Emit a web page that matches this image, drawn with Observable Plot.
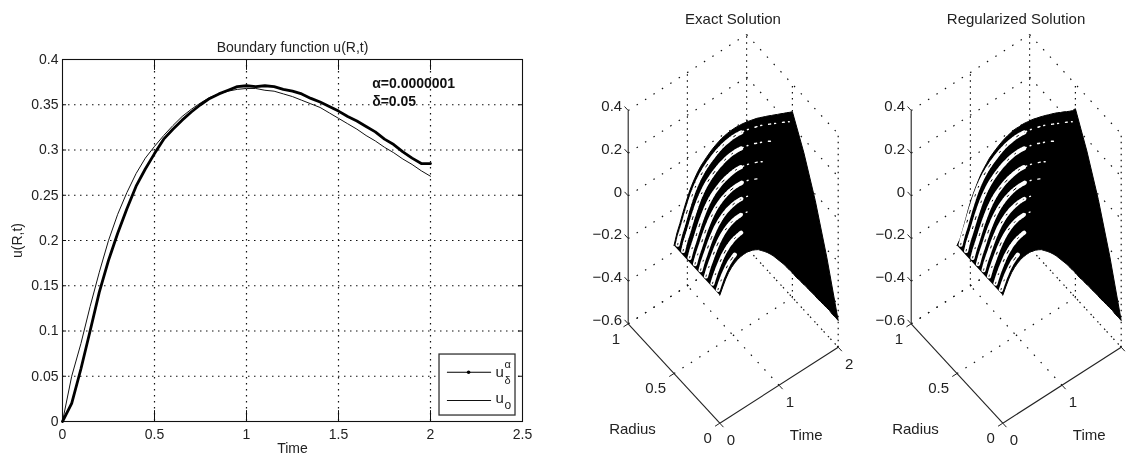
<!DOCTYPE html>
<html><head><meta charset="utf-8">
<script src="https://cdn.jsdelivr.net/npm/d3@7"></script>
<script src="https://cdn.jsdelivr.net/npm/@observablehq/plot@0.6"></script>
<style>
html,body{margin:0;padding:0;background:#fff;overflow:hidden;width:1127px;height:456px}
#page{position:relative;width:1127px;height:456px;overflow:hidden;filter:blur(.35px)}
#page>div{position:absolute;top:0;width:300px}
#page>#a{width:560px}
#page>#c{width:284px}
svg{display:block;max-width:none !important}
</style></head><body><div id="page"><div id="a" style="left:0"></div><div id="b" style="left:560px"></div><div id="c" style="left:843px"></div></div>
<script>
// Time grid shared by the boundary curves
const time = [0,.05,.1,.15,.2,.25,.3,.35,.4,.45,.5,.55,.6,.65,.7,.75,.8,.85,.9,.95,1,1.05,1.1,1.15,1.2,1.25,1.3,1.35,1.4,1.45,1.5,1.55,1.6,1.65,1.7,1.75,1.8,1.85,1.9,1.95,2];
// u_0 : thin curve, exact boundary function
const uExact = [0,.05,.086,.127,.165,.2,.229,.253,.274,.291,.304,.316,.327,.337,.345,.352,.358,.362,.365,.367,.368,.368,.366,.365,.362,.359,.355,.351,.347,.341,.335,.329,.323,.316,.31,.303,.297,.29,.284,.277,.271];
// u_delta^alpha : thick curve, regularized boundary function
const uReg = [0,.02,.058,.1,.143,.178,.208,.235,.26,.279,.296,.312,.323,.333,.342,.35,.357,.362,.366,.37,.371,.37,.371,.37,.367,.365,.362,.357,.353,.348,.343,.337,.332,.326,.32,.312,.306,.298,.291,.285,.285];
// Surface edge at r = 0
const uCentre = [0,.03,.058,.08,.095,.106,.114,.118,.12,.12,.118,.113,.106,.098,.085,.072,.058,.042,.025,.005,-.015,-.035,-.055,-.08,-.1,-.125,-.15,-.17,-.195,-.215,-.24,-.262,-.285,-.31,-.332,-.355,-.378,-.4,-.428,-.45,-.475];
// Surface edge at t = 2
const endRadius = [0,.125,.25,.375,.5];
const endExact = [-.475,-.236,-.03,.137,.271];
const endReg = [-.475,-.232,-.024,.145,.285];
// Surface rows between the mesh arcs
const rowTime = [.015,.05,.1,.2,.3,.4,.5,.6,.7,.8,.9,1,1.1,1.2,1.3,1.4,1.5,1.6,1.7,1.8,1.9];
const row03 = [.009,.032,.06,.101,.123];
const row09 = [.01,.035,.065,.112,.141,.156,.162];
const row16 = [.011,.038,.069,.123,.16,.182,.193,.195,.19,.179];
const row22 = [.012,.041,.073,.132,.175,.202,.217,.224,.224,.218,.207];
const row28 = [.013,.043,.076,.141,.189,.221,.24,.251,.255,.254,.247,.235,.22];
const row34 = [.014,.045,.079,.148,.202,.238,.26,.275,.283,.287,.284,.277,.266,.253,.235];
const row41 = [.014,.048,.083,.156,.215,.255,.281,.3,.313,.321,.323,.32,.314,.305,.292,.28,.264];
const row47 = [.015,.049,.085,.162,.225,.268,.297,.318,.335,.346,.352,.353,.35,.344,.335,.326,.313,.299,.285,.271,.256];
const rows = [[.03,row03,.3],[.09,row09,.5],[.16,row16,.6],[.22,row22,.7],[.28,row28,.8],[.34,row34,.9],[.41,row41,1],[.47,row47,1.1]];
// Axis ticks
const xTicks2d = [0,.5,1,1.5,2,2.5];
const yTicks2d = [0,.05,.1,.15,.2,.25,.3,.35,.4];
const tTicks = [0,1,2];
const rTicks = [0,.5,1];
const zTicks = [-.6,-.4,-.2,0,.2,.4];

const font = "'Liberation Sans', Arial, sans-serif";
const ink = "#222";
const fmt = v => String(v).replace("-", "\u2212");

// ---------- Left panel ----------
const thin = time.map((t,i)=>({t,u:uExact[i]}));
const thick = time.map((t,i)=>({t,u:uReg[i]}));
document.getElementById("a").append(Plot.plot({
  width:540,height:456,marginLeft:62,marginRight:18,marginTop:59,marginBottom:35,
  style:{background:"transparent",fontFamily:font,color:ink,fontSize:"14px"},
  x:{type:"linear",domain:[0,2.5]},y:{type:"linear",domain:[0,.4]},
  marks:[
    Plot.ruleX(xTicks2d.slice(1,-1),{stroke:"#111",strokeWidth:1.2,strokeDasharray:"1.5 4.5",strokeOpacity:1}),
    Plot.ruleY(yTicks2d.slice(1,-1),{stroke:"#111",strokeWidth:1.2,strokeDasharray:"1.5 4.5",strokeOpacity:1}),
    Plot.ruleX(xTicks2d,{y1:0,y2:.012,stroke:"#111"}),
    Plot.ruleX(xTicks2d,{y1:.388,y2:.4,stroke:"#111"}),
    Plot.ruleY(yTicks2d,{x1:0,x2:.022,stroke:"#111"}),
    Plot.ruleY(yTicks2d,{x1:2.478,x2:2.5,stroke:"#111"}),
    Plot.frame({stroke:"#111",strokeWidth:1.1}),
    Plot.axisX({ticks:xTicks2d,tickFormat:String,tickSize:0,tickPadding:8,fontSize:14,label:"Time",labelAnchor:"center",labelArrow:"none",labelOffset:31}),
    Plot.axisY({ticks:yTicks2d,tickFormat:String,tickSize:0,tickPadding:4,fontSize:14,label:"u(R,t)",labelAnchor:"center",labelArrow:"none",labelOffset:50}),
    Plot.line(thin,{x:"t",y:"u",stroke:"#111",strokeWidth:1}),
    Plot.line(thick,{x:"t",y:"u",stroke:"#000",strokeWidth:2.8}),
    Plot.text(["Boundary function u(R,t)"],{frameAnchor:"top",dy:-17,fontSize:14,fill:ink}),
    Plot.text(["\u03b1=0.0000001"],{x:1.683,y:.3738,textAnchor:"start",fontSize:14,fontWeight:"bold",fill:"#111"}),
    Plot.text(["\u03b4=0.05"],{x:1.683,y:.3536,textAnchor:"start",fontSize:14,fontWeight:"bold",fill:"#111"}),
    // legend
    Plot.rect([0],{x1:2.049,x2:2.462,y1:.0066,y2:.074,fill:"white",stroke:"#333",strokeWidth:1.3}),
    Plot.ruleY([.0545],{x1:2.092,x2:2.332,stroke:"#000",strokeWidth:1.1}),
    Plot.dot([0],{x:2.207,y:.0545,r:1.8,fill:"#000"}),
    Plot.ruleY([.0232],{x1:2.092,x2:2.332,stroke:"#111",strokeWidth:1}),
    Plot.text(["u"],{x:2.353,y:.0541,textAnchor:"start",fontSize:15,fill:ink}),
    Plot.text(["\u03b1"],{x:2.402,y:.0625,textAnchor:"start",fontSize:11,fill:ink}),
    Plot.text(["\u03b4"],{x:2.402,y:.0455,textAnchor:"start",fontSize:11,fill:ink}),
    Plot.text(["u"],{x:2.353,y:.0254,textAnchor:"start",fontSize:15,fill:ink}),
    Plot.text(["o"],{x:2.402,y:.0177,textAnchor:"start",fontSize:12,fill:ink})
  ]
}));

// ---------- 3-D panels ----------
// Oblique projection: (time, radius, height) to the panel's x and y
const P = {x0:159.3,y0:422.7,tx:59.2,ty:-38,rx:-91.6,ry:-99.4,zy:-213.3};
const px = (t,r) => P.x0 + P.tx*t + P.rx*r;
const py = (t,r,z) => P.y0 + P.ty*t + P.ry*r + P.zy*(z+.6);
const pt = (t,r,z) => ({x:px(t,r),y:py(t,r,z)});
const seg = (a,b) => ({x1:px(a[0],a[1]),y1:py(a[0],a[1],a[2]),x2:px(b[0],b[1]),y2:py(b[0],b[1],b[2])});

function panel(id,title,uTop,endCol,timeLabels,W){
  const H=456;
  const zLo=-.6,zHi=.4;
  const diag=[], vert=[];
  for(const t of tTicks){ if(t>0) diag.push(seg([t,0,zLo],[t,1,zLo])); if(t>0) vert.push(seg([t,1,zLo],[t,1,zHi])); }
  for(const r of rTicks){ if(r>0) diag.push(seg([0,r,zLo],[2,r,zLo])); if(r<1) vert.push(seg([2,r,zLo],[2,r,zHi])); }
  for(const z of zTicks){ diag.push(seg([0,1,z],[2,1,z])); diag.push(seg([2,1,z],[2,0,z])); }
  const axes=[seg([0,1,zLo],[0,1,zHi]),seg([0,1,zLo],[0,0,zLo]),seg([0,0,zLo],[2,0,zLo])];
  const ticks=[
    ...zTicks.map(z=>seg([0,1,z],[0,1.04,z])),
    ...rTicks.map(r=>seg([0,r,zLo],[-.08,r,zLo])),
    ...tTicks.map(t=>seg([t,0,zLo],[t,-.04,zLo]))
  ];
  const outline=[
    ...time.map((t,i)=>pt(t,0,uCentre[i])),
    ...endRadius.map((r,i)=>pt(2,r,endCol[i])),
    ...time.map((t,i)=>pt(t,.5,uTop[i])).reverse()
  ];
  const dense=[],sparse=[];
  rows.forEach(([r,vals,cut],k)=>{
    vals.forEach((z,i)=>{
      const t=rowTime[i];
      if(t<=cut) dense.push({...pt(t,r,z),k});
      if(t>=cut) sparse.push({...pt(t,r,z),k});
    });
  });
  const lab=(t,r,z,s)=>({...pt(t,r,z),s});
  document.getElementById(id).append(Plot.plot({
    width:W,height:H,margin:0,
    style:{background:"transparent",fontFamily:font,color:ink},
    x:{type:"linear",domain:[0,W],range:[0,W],axis:null},
    y:{type:"linear",domain:[0,H],range:[0,H],axis:null},
    marks:[
      Plot.link(diag,{x1:"x1",y1:"y1",x2:"x2",y2:"y2",stroke:"#111",strokeWidth:1.2,strokeDasharray:"1.5 8.5"}),
      Plot.link(vert,{x1:"x1",y1:"y1",x2:"x2",y2:"y2",stroke:"#111",strokeWidth:1.2,strokeDasharray:"1.5 4.5"}),
      Plot.link(axes,{x1:"x1",y1:"y1",x2:"x2",y2:"y2",stroke:"#222",strokeWidth:1.1}),
      Plot.link(ticks,{x1:"x1",y1:"y1",x2:"x2",y2:"y2",stroke:"#222",strokeWidth:1}),
      Plot.line(outline,{x:"x",y:"y",stroke:"#000",strokeWidth:1,fill:"#000"}),
      Plot.line(dense,{x:"x",y:"y",z:"k",curve:"catmull-rom",stroke:"#fff",strokeWidth:4.2,strokeDasharray:"3 1.1 1.5 1 4 1.2 1 1.5 3 1 2 1.4"}),
      Plot.line(dense,{x:"x",y:"y",z:"k",curve:"catmull-rom",stroke:"#000",strokeWidth:1,strokeDasharray:"1.5 8 1 13 2 7 3 15"}),
      Plot.line(sparse,{x:"x",y:"y",z:"k",curve:"catmull-rom",stroke:"#fff",strokeWidth:1.4,strokeDasharray:"2 4 1 7"}),
      Plot.text(zTicks.map(z=>lab(0,1,z,fmt(z))),{x:"x",y:"y",text:"s",textAnchor:"end",dx:-6,dy:-4,fontSize:15,fill:ink}),
      Plot.text(rTicks.map(r=>lab(0,r,zLo,fmt(r))),{x:"x",y:"y",text:"s",textAnchor:"end",dx:-8,dy:15,fontSize:15,fill:ink}),
      Plot.text(timeLabels.map(t=>lab(t,0,zLo,fmt(t))),{x:"x",y:"y",text:"s",dx:11,dy:17,fontSize:15,fill:ink}),
      Plot.text(["Radius"],{x:[72],y:[429],fontSize:15,fill:ink}),
      Plot.text(["Time"],{x:[245.7],y:[435],fontSize:15,fill:ink}),
      Plot.text([title],{x:[172.5],y:[19],fontSize:15,fill:ink})
    ]
  }));
}
panel("b","Exact Solution",uExact,endExact,tTicks,300);
panel("c","Regularized Solution",uReg,endReg,[0,1],284);
</script></body></html>
